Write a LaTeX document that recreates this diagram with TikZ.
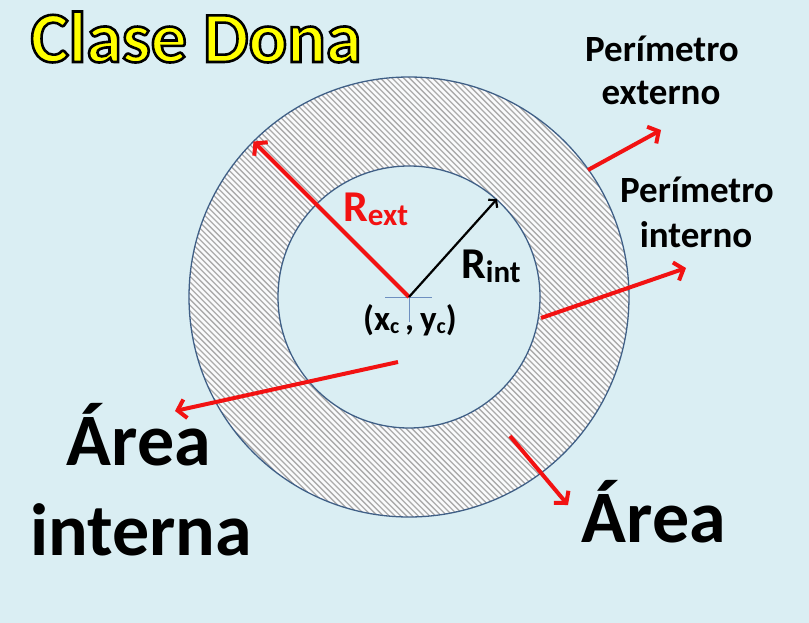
\documentclass[tikz,border=0pt]{standalone}
\usepackage{fontspec}
\setmainfont{Carlito}
\usetikzlibrary{arrows.meta,calc}
\definecolor{bgc}{HTML}{DAEEF3}
\definecolor{ringc}{HTML}{3F5F86}
\definecolor{hatchc}{HTML}{ABABAB}
\definecolor{ringfill}{HTML}{FAFBFC}
\definecolor{crossc}{HTML}{6E8FC0}
\definecolor{redc}{HTML}{F21212}
\definecolor{titlec}{HTML}{FFFF00}
\tikzset{
  redarrow/.style={draw=redc, line width=4pt, -{Straight Barb[length=8pt,width=19pt]}},
  blackarrow/.style={draw=black, line width=2.2pt, -{Straight Barb[length=5pt,width=12pt]}},
  ringline/.style={draw=ringc, line width=1.3pt},
  lbl/.style={inner sep=0pt, anchor=base, font=\bfseries},
}
\newcommand{\fsz}[1]{\fontsize{#1}{#1}\selectfont}
\begin{document}
\begin{tikzpicture}[x=1pt,y=-1pt]
\fill[bgc] (0,0) rectangle (809,623);
\useasboundingbox (0,0) rectangle (809,623);
\coordinate (C) at (409,297);
% hatched ring
\fill[ringfill] (C) circle[radius=220pt];
\begin{scope}
  \clip (C) circle[radius=220pt];
  \foreach \k in {-320,-314.2,...,320}
    \draw[hatchc, line width=1.3pt] (409+\k-240,297-240) -- (409+\k+240,297+240);
\end{scope}
\fill[bgc] (C) circle[radius=131pt];
\draw[ringline] (C) circle[radius=220pt];
\draw[ringline] (C) circle[radius=131pt];
% crosshair
\coordinate (hl) at (385,297);
\coordinate (hr) at (432,297);
\coordinate (vb) at (409,322);
\draw[crossc, line width=0.7pt] (hl) -- (hr);
\draw[crossc, line width=0.7pt] (C) -- (vb);
% radii
\coordinate (Rext) at (253.5,141.5);
\coordinate (Rint) at (497,199);
\draw[redarrow] (C) -- (Rext);
\draw[blackarrow] (C) -- (Rint);
% labels of radii
\node[lbl, anchor=base west, text=redc] (lext) at (343,222) {\fsz{44}R\raisebox{-4pt}{\fsz{31}ext}};
\node[lbl, anchor=base west] (lint) at (461,278) {\fsz{44}R\raisebox{-4pt}{\fsz{31}int}};
\node[lbl] (lc) at (410,330) {\fsz{35}(x\raisebox{-3pt}{\fsz{22}c}\,,\,y\raisebox{-3pt}{\fsz{22}c})};
% title
\coordinate (tp) at (196,62);
\node[lbl] (title) at (tp) {\color{titlec}\special{pdf:literal direct 2 Tr 2.6 w 0 0 0 RG}\fsz{72}Clase Dona\special{pdf:literal direct 0 Tr}};
% perimeter labels
\node[lbl] (pe1) at (662,62) {\fsz{37}Perímetro};
\node[lbl] (pe2) at (661,105) {\fsz{37}externo};
\node[lbl] (pi1) at (697,202) {\fsz{37}Perímetro};
\node[lbl] (pi2) at (696,247) {\fsz{37}interno};
% area labels
\node[lbl] (ai1) at (139,465) {\fsz{74}Área};
\node[lbl] (ai2) at (141,555) {\fsz{74}interna};
\node[lbl] (ar) at (654,542) {\fsz{74}Área};
% pointer arrows
\coordinate (pes) at (588,170);
\coordinate (pet) at (661,130);
\coordinate (pis) at (541,318);
\coordinate (pit) at (686,268);
\coordinate (ais) at (398,362);
\coordinate (ait) at (175,411);
\coordinate (ars) at (510,436);
\coordinate (art) at (568,505);
\draw[redarrow] (pes) -- (pet);
\draw[redarrow] (pis) -- (pit);
\draw[redarrow] (ais) -- (ait);
\draw[redarrow] (ars) -- (art);
\end{tikzpicture}
\end{document}
